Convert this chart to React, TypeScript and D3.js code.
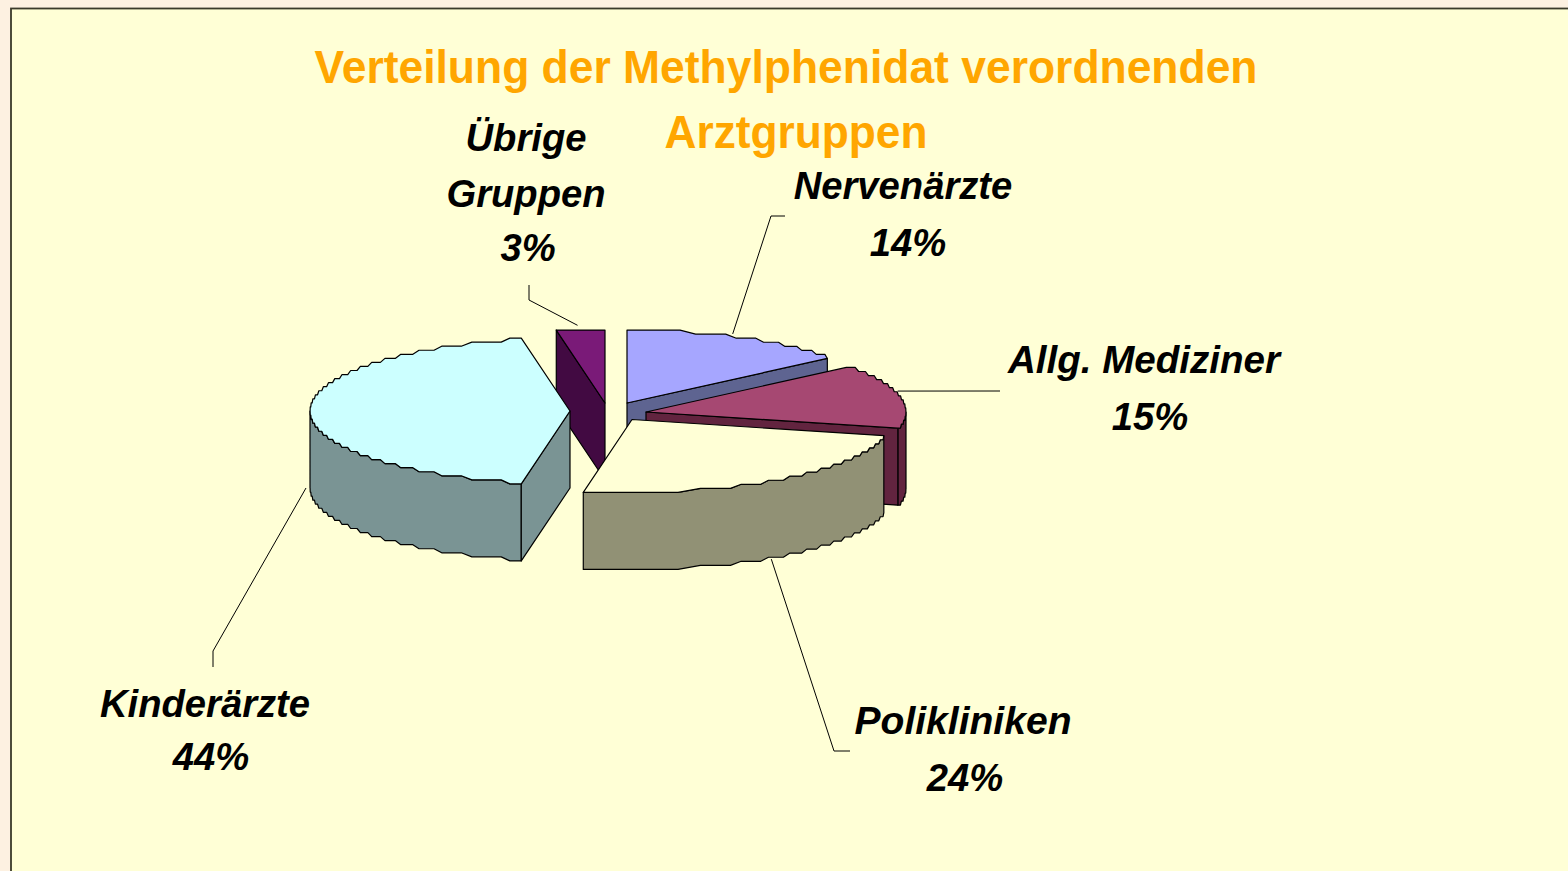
import React from "react";
import * as d3 from "d3";

const categories = ["Nervenärzte", "Allg. Mediziner", "Polikliniken", "Kinderärzte", "Übrige Gruppen"];
const shares = [14, 15, 24, 44, 3];
const topColors = ["#a6a6ff", "#a64872", "#ffffd6", "#ccffff", "#7a1a78"];
const sideColors = ["#5e6491", "#62243f", "#919175", "#7a9494", "#420a42"];
const titleLines = ["Verteilung der Methylphenidat verordnenden", "Arztgruppen"];

// layout: exploded slice apex of each category, and label/leader placement
const apexes = [[627, 403], [646, 412], [632, 419.5], [570, 411], [605, 403]];
const labelLines = [["Nervenärzte", "14%"], ["Allg. Mediziner", "15%"], ["Polikliniken", "24%"], ["Kinderärzte", "44%"], ["Übrige", "Gruppen", "3%"]];
const labelPos = [[[903, 199], [908, 256]], [[1144, 373], [1150, 430]], [[963, 734], [965, 791]], [[205, 717], [211, 770]], [[526, 151], [526, 207], [528, 261]]];
const labelFit: Record<string, number> = { "Allg. Mediziner": 272, Polikliniken: 217 };
const leaderElbows = [[[771, 216], [785, 216]], [[1000, 391]], [[834, 751], [850, 751]], [[213, 651], [213, 667]], [[529, 300], [529, 285]]];
const leaderOffset = [[-5, -3], [-2, -5], [0, 1], [-4, 0], [-3, -5]];

const RX = 260, RY = 73, DEPTH = 77, SNAP_Y = 4.05, TRIM = 0.14;
const drawOrder = [4, 0, 1, 3, 2];

const arcs = d3.pie<number>().sort(null).value((d) => d)(shares);
const line = d3.line();

const project = (i: number, a: number, dy = 0): [number, number] => [
  apexes[i][0] + RX * Math.sin(a),
  apexes[i][1] - RY * Math.cos(a) + dy,
];
const snapY = (i: number, y: number, dy = 0) => {
  const oy = apexes[i][1] + dy;
  return oy + Math.round((y - oy) / SNAP_Y) * SNAP_Y;
};
const rimPoint = (i: number, a: number, dy = 0): [number, number] => {
  const [x, y] = project(i, a, dy);
  return [x, snapY(i, y, dy)];
};
// jagged outline of the original raster: rim points grouped into horizontal runs
const snapped = (i: number, a0: number, a1: number, dy = 0): [number, number][] => {
  const n = Math.max(2, Math.ceil(Math.abs(a1 - a0) / (Math.PI / 720)));
  const samples = d3.range(n + 1).map((k) => project(i, a0 + ((a1 - a0) * k) / n, dy));
  const runs: [number, number][][] = [];
  samples.forEach((p) => {
    const last = runs[runs.length - 1];
    if (last && snapY(i, last[0][1], dy) === snapY(i, p[1], dy)) last.push(p);
    else runs.push([p]);
  });
  const out: [number, number][] = [];
  runs.forEach((r, k) => {
    const y = snapY(i, r[0][1], dy);
    const xa = r[0][0], xb = r[r.length - 1][0];
    out.push([k === 0 ? xa : xa + (xb - xa) * TRIM, y], [k === runs.length - 1 ? xb : xb - (xb - xa) * TRIM, y]);
  });
  return out;
};

function Slice({ i }: { i: number }) {
  const { startAngle: s, endAngle: e } = arcs[i];
  const apex = apexes[i] as [number, number];
  const vs = Math.max(s, Math.PI / 2), ve = Math.min(e, (3 * Math.PI) / 2);
  const top = [apex, ...snapped(i, s, e)];
  const stroke = { stroke: "#000", strokeWidth: 1.2, strokeLinejoin: "round" as const };
  const faces: [number, number][][] = [];
  // radial faces that look towards the viewer
  if (Math.sin(s) < -1e-6) {
    const p = rimPoint(i, s);
    faces.push([apex, p, [p[0], p[1] + DEPTH], [apex[0], apex[1] + DEPTH]]);
  }
  if (Math.sin(e) > 1e-6) {
    const p = rimPoint(i, e);
    faces.push([apex, p, [p[0], p[1] + DEPTH], [apex[0], apex[1] + DEPTH]]);
  }
  const wall = ve > vs ? [...snapped(i, vs, ve), ...snapped(i, vs, ve, DEPTH).reverse()] : null;
  return (
    <g>
      {wall && <path d={line(wall) + "Z"} fill={sideColors[i]} {...stroke} />}
      {faces.map((f, k) => (
        <path key={k} d={line(f) + "Z"} fill={sideColors[i]} {...stroke} />
      ))}
      <path d={line(top) + "Z"} fill={topColors[i]} {...stroke} />
    </g>
  );
}

export default function App() {
  return (
    <svg width={1568} height={871} style={{ position: "absolute", left: 0, top: 0 }} fontFamily="'Liberation Sans', Arial, sans-serif">
      <rect width={1568} height={871} fill="#fdf1e1" />
      <rect x={11} y={8.5} width={1600} height={900} fill="#ffffd6" stroke="#3a3a2a" strokeWidth={1.8} />
      {titleLines.map((t, k) => (
        <text key={k} x={k === 0 ? 786 : 796} y={k === 0 ? 83 : 148} textAnchor="middle" fontWeight="bold" fontSize={46} fill="#ffa600" textLength={k === 0 ? 943 : 263} lengthAdjust="spacingAndGlyphs">
          {t}
        </text>
      ))}
      {drawOrder.map((i) => (
        <Slice key={categories[i]} i={i} />
      ))}
      {categories.map((c, i) => {
        const mid = (arcs[i].startAngle + arcs[i].endAngle) / 2;
        const isBottom = Math.cos(mid) < 0.5 && (Math.cos(mid) < 0 || Math.sin(mid) < -0.9);
        const [x, y] = project(i, mid, isBottom ? DEPTH : 0);
        const pts: [number, number][] = [[x + leaderOffset[i][0], y + leaderOffset[i][1]], ...(leaderElbows[i] as [number, number][])];
        return <path key={c} d={line(pts) ?? ""} fill="none" stroke="#000" strokeWidth={1} />;
      })}
      {labelLines.map((ls, i) =>
        ls.map((t, k) => (
          <text key={t} x={labelPos[i][k][0]} y={labelPos[i][k][1]} textAnchor="middle" fontWeight="bold" fontStyle="italic" fontSize={38.2} fill="#000" textLength={labelFit[t]} lengthAdjust="spacingAndGlyphs">
            {t}
          </text>
        ))
      )}
    </svg>
  );
}
